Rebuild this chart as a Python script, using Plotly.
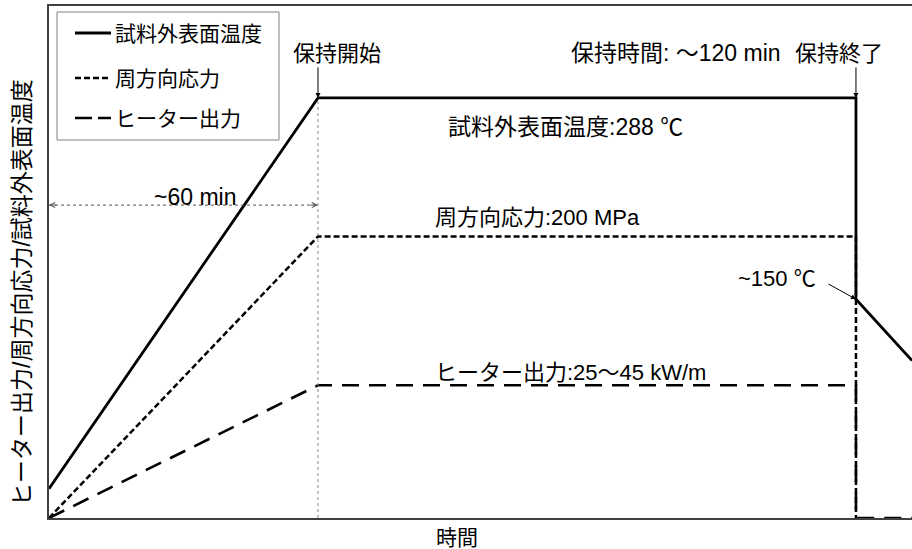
import plotly.graph_objects as go

# ---- data (time in min, values in common relative units) ----
time_temp = [0, 60, 180, 180, 192.5]
temp = [20, 288, 288, 150, 108]
time_stress = [0, 60, 180, 180]
stress = [0, 193, 193, 0]
time_heater = [0, 60, 180, 180, 192.5]
heater = [0, 91, 91, 0, 0]
hold_start = 60
hold_end = 180
arrow_60_level = 214.5

legend_names = ["試料外表面温度", "周方向応力", "ヒーター出力"]

# ---- layout geometry ----
W, H = 912, 549
L, R, T, B = 49, 0, 6, 31
XR = [0, 192.5]
YR = [0, 351]
PW = W - L - R
PH = H - T - B

def px2x(px):
    return XR[0] + (px - L) / PW * (XR[1] - XR[0])

def px2y(py):
    return YR[0] + (H - B - py) / PH * (YR[1] - YR[0])

def ppx(px):
    return (px - L) / PW

def ppy(py):
    return (H - B - py) / PH

FONT = "Liberation Sans, Arial, Noto Sans CJK JP"

fig = go.Figure()
fig.add_trace(go.Scatter(x=time_heater, y=heater, mode="lines",
                         line=dict(color="black", width=2.6, dash="17px,10px"),
                         showlegend=False, hoverinfo="skip"))
fig.add_trace(go.Scatter(x=time_stress, y=stress, mode="lines",
                         line=dict(color="black", width=2.5, dash="6px,3px"),
                         showlegend=False, hoverinfo="skip"))
fig.add_trace(go.Scatter(x=time_temp, y=temp, mode="lines",
                         line=dict(color="black", width=2.8),
                         showlegend=False, hoverinfo="skip"))

shapes = []
shapes.append(dict(type="line", xref="x", yref="y", x0=hold_start, x1=hold_start,
                   y0=0, y1=temp[1], line=dict(color="#888888", width=1, dash="dot")))
shapes.append(dict(type="line", xref="x", yref="y", x0=0, x1=hold_start,
                   y0=arrow_60_level, y1=arrow_60_level,
                   line=dict(color="#555555", width=1, dash="dot")))
shapes.append(dict(type="rect", xref="paper", yref="paper", x0=ppx(57), x1=ppx(279),
                   y0=ppy(140), y1=ppy(12), line=dict(color="#808080", width=1),
                   fillcolor="white", layer="above"))
leg_rows = [33, 78, 118]
leg_dash = ["solid", "6px,3px", "17px,6px"]
leg_w = [2.8, 2.5, 2.6]
for yy, d, w in zip(leg_rows, leg_dash, leg_w):
    shapes.append(dict(type="line", xref="paper", yref="paper", x0=ppx(75), x1=ppx(111),
                       y0=ppy(yy), y1=ppy(yy), line=dict(color="black", width=w, dash=d),
                       layer="above"))

ann = []
for yy, name in zip(leg_rows, legend_names):
    ann.append(dict(xref="paper", yref="paper", x=ppx(113), y=ppy(yy), text=name,
                    showarrow=False, xanchor="left", yanchor="middle",
                    font=dict(size=21, family=FONT, color="black")))

def txt(px, py, s, xanchor="center", size=22):
    ann.append(dict(xref="x", yref="y", x=px2x(px), y=px2y(py), text=s, showarrow=False,
                    xanchor=xanchor, yanchor="middle",
                    font=dict(size=size, family=FONT, color="black")))

txt(337, 53, "保持開始", size=22)
txt(676, 53, "保持時間: ～120 min", size=23)
txt(839, 53, "保持終了", size=22)
txt(446, 127, "試料外表面温度:288 ℃", xanchor="left", size=23)
txt(433, 217, "周方向応力:200 MPa", xanchor="left", size=22)
txt(433, 372, "ヒーター出力:25～45 kW/m", xanchor="left", size=22)
txt(195, 197, "~60 min", size=23)
txt(777, 278, "~150 ℃", size=22)

def arrow(x, y, ax, ay, head=2, color="black", width=1, size=1):
    ann.append(dict(xref="x", yref="y", x=x, y=y, ax=ax, ay=ay, text="",
                    showarrow=True, arrowhead=head, arrowsize=size, arrowwidth=width,
                    arrowcolor=color, standoff=0, startstandoff=0))

arrow(hold_start, temp[1], 0, -32)
arrow(hold_end, temp[2], 0, -32)
arrow(hold_end, temp[3], -29, -16)
arrow(0, arrow_60_level, 9, 0, head=5, color="#555555", width=1)
arrow(hold_start, arrow_60_level, -9, 0, head=5, color="#555555", width=1)

ann.append(dict(xref="paper", yref="paper", x=ppx(457), y=ppy(537), text="時間",
                showarrow=False, xanchor="center", yanchor="middle",
                font=dict(size=21, family=FONT, color="black")))
ann.append(dict(xref="paper", yref="paper", x=ppx(22), y=ppy(293),
                text="ヒーター出力/周方向応力/試料外表面温度", textangle=-90,
                showarrow=False, xanchor="center", yanchor="middle",
                font=dict(size=23, family=FONT, color="black")))

axis_common = dict(showgrid=False, zeroline=False, showticklabels=False, ticks="",
                   showline=True, linecolor="#404040", linewidth=1.5, fixedrange=True)
fig.update_layout(
    width=W, height=H, autosize=False,
    margin=dict(l=L, r=R, t=T, b=B, pad=0),
    paper_bgcolor="white", plot_bgcolor="white",
    xaxis=dict(range=XR, mirror=True, **axis_common),
    yaxis=dict(range=YR, mirror=False, **axis_common),
    shapes=shapes, annotations=ann, showlegend=False,
    font=dict(family=FONT, color="black"),
)
fig.write_html("out.html", config={"displayModeBar": False},
               post_script="document.body.style.margin='0';document.body.style.overflow='hidden';")
